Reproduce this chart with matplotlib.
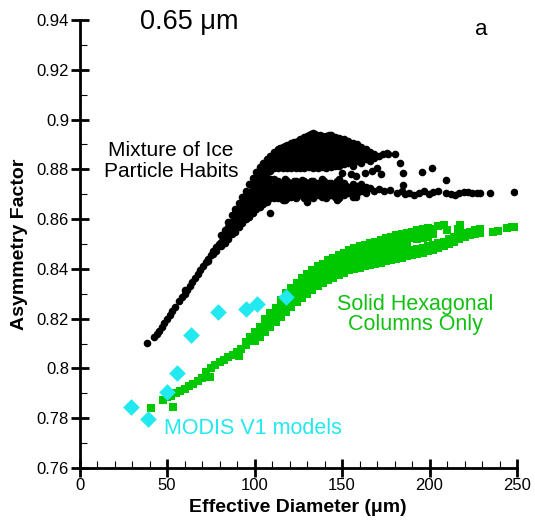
import numpy as np
import matplotlib
matplotlib.use("Agg")
import matplotlib.pyplot as plt
from matplotlib.ticker import MultipleLocator, FixedLocator

plt.rcParams['font.family'] = ['Liberation Sans', 'DejaVu Sans']

# ---- Mixture of ice particle habits (black dots) ----
# narrow leading branch, small effective diameters
mix_line = [(38.5, .8101), (42.5, .8125), (44, .8137), (45.5, .8152), (47, .8167),
            (48.5, .8182), (50, .8198), (51.5, .8213), (53, .8229), (54.5, .8245),
            (57, .8272), (58.5, .8287), (60, .8301), (60.5, .8314), (61.5, .8316),
            (63, .8332), (64.5, .8347), (66, .8362), (67.5, .8378), (69, .8394),
            (70.5, .841), (72, .8426), (73.5, .8441), (73.5, .843), (75, .8456),
            (76.5, .8471), (76.5, .8458), (78, .8487), (78, .8472), (79.5, .8502)]

# widening band where the habits start to diverge: (diameter, [asymmetry values])
mix_band = [(81, [.849, .851, .8535]),
            (83, [.8505, .853, .8555]),
            (85, [.852, .8545, .857, .859]),
            (87, [.854, .8565, .859, .8615]),
            (89, [.855, .8575, .86, .8625, .864]),
            (91, [.857, .8595, .862, .8645, .8665]),
            (93, [.8585, .861, .8635, .866, .869]),
            (95, [.86, .8625, .865, .8675, .870, .8715]),
            (97, [.861, .8635, .866, .8685, .871, .874]),
            (99, [.8625, .865, .8675, .870, .8725, .875, .8765]),
            (101, [.864, .8665, .869, .8715, .874, .8765, .879]),
            (103, [.865, .8675, .870, .8725, .875, .8775, .880, .881]),
            (105, [.866, .8685, .871, .8735, .876, .8785, .881, .8825]),
            (107, [.867, .8695, .872, .8745, .8765, .879, .8815, .884]),
            (109, [.8625, .8685, .871, .8735, .876, .8795, .882, .8845, .8855])]

# upper branch of the cloud
mix_upper = [(111, [.8805, .883, .8855, .887]),
             (112.3, [.8818, .8843, .8868]),
             (113.5, [.8805, .883, .8855, .888]),
             (114.8, [.8818, .8843, .8868, .8885]),
             (116, [.8805, .883, .8855, .889]),
             (117.3, [.8818, .8843, .8868, .8893]),
             (118.5, [.8805, .883, .8855, .888, .8898]),
             (119.8, [.8818, .8843, .8868, .8893]),
             (121, [.8805, .883, .8855, .888, .8905]),
             (122.3, [.8818, .8843, .8868, .8893, .891]),
             (123.5, [.8805, .883, .8855, .888, .891]),
             (124.8, [.8818, .8843, .8868, .8893, .8915]),
             (126, [.8805, .883, .8855, .888, .8905, .892]),
             (127.3, [.8818, .8843, .8868, .8893, .8918]),
             (128.5, [.8805, .883, .8855, .888, .8905, .893]),
             (129.8, [.8818, .8843, .8868, .8893, .8918, .8935]),
             (131, [.881, .883, .8855, .888, .8905, .893, .8938]),
             (132.3, [.8818, .8843, .8868, .8893, .8918, .8942]),
             (133.5, [.8805, .883, .8855, .888, .8905, .893, .8945]),
             (134.8, [.8818, .8843, .8868, .8893, .8918, .8942]),
             (136, [.8805, .883, .8855, .888, .8905, .893]),
             (137.3, [.8818, .8843, .8868, .8893, .8918, .894]),
             (138.5, [.881, .8835, .886, .8885, .891, .8935]),
             (139.8, [.8822, .8847, .8872, .8897, .8922]),
             (141, [.8805, .883, .8855, .888, .8905, .8935]),
             (142.3, [.8822, .8847, .8872, .8897, .8922, .8938]),
             (143.5, [.881, .8835, .886, .8885, .891, .8938]),
             (144.8, [.8827, .8852, .8877, .8902, .8925]),
             (146, [.8815, .884, .8865, .889, .8915, .893]),
             (147.3, [.8827, .8852, .8877, .8902, .8925]),
             (148.5, [.8815, .884, .8865, .889, .8915, .8925]),
             (149.8, [.8832, .8857, .8882, .8907]),
             (151, [.882, .8845, .887, .8895, .892]),
             (152.3, [.8837, .8862, .8887, .891]),
             (153.5, [.8825, .885, .8875, .890, .8915]),
             (154.8, [.8828, .8853, .8878, .8903]),
             (156, [.8815, .884, .8865, .889, .8905]),
             (157.3, [.8847, .8872, .8895]),
             (158.5, [.8835, .886, .8885, .890]),
             (159.8, [.8837, .8862, .8885]),
             (161, [.8825, .885, .8875, .889]),
             (162.3, [.8852, .8877]),
             (163.5, [.884, .8865, .888]),
             (166, [.8835, .886, .887]),
             (168.5, [.8845, .886]),
             (171, [.8855]),
             (173.5, [.8862])]

# lower branch of the cloud
mix_lower = [(111, [.8685, .871, .8735, .876]),
             (112.3, [.8697, .8722, .8747]),
             (113.5, [.8685, .871, .8735, .8755]),
             (114.8, [.8697, .8722, .8747]),
             (116, [.8675, .870, .8725, .875]),
             (117.3, [.8687, .8712, .8737, .876]),
             (118.5, [.8685, .871, .8735, .8755]),
             (119.8, [.8697, .8722, .8747]),
             (121, [.869, .8715, .874]),
             (122.3, [.8702, .8727, .8752]),
             (123.5, [.8685, .871, .8735, .8755]),
             (124.8, [.8697, .8722, .8747]),
             (126, [.8695, .872, .8745]),
             (127.3, [.8707, .8732, .8757]),
             (128.5, [.8685, .871, .8735, .8755]),
             (129.8, [.8697, .8722, .8747]),
             (131, [.869, .8715, .874]),
             (132.3, [.8702, .8727, .8752]),
             (133.5, [.8685, .871, .8735, .8755]),
             (134.8, [.8697, .8722, .8747]),
             (136, [.8695, .872, .8745]),
             (137.3, [.8707, .8732]),
             (138.5, [.869, .8715, .874, .8762]),
             (139.8, [.8702, .8727, .8752]),
             (141, [.8685, .871, .8735]),
             (142.3, [.8697, .8722, .8747]),
             (143.5, [.8695, .872, .8745]),
             (144.8, [.8707, .8732]),
             (146, [.869, .8715, .874]),
             (147.3, [.8702, .8727, .8752]),
             (148.5, [.8685, .871, .8735, .876]),
             (149.8, [.8697, .8722, .8747]),
             (151, [.8695, .872, .8745]),
             (152.3, [.8707, .8732]),
             (153.5, [.8705, .873]),
             (156, [.869, .8715, .874]),
             (158.5, [.8705, .8735]),
             (161, [.8715, .874]),
             (163.5, [.8705, .873]),
             (166, [.8725]),
             (168.5, [.8715])]

# scattered points at large diameters
mix_sparse = [(117.4, .8677), (130, .867), (147, .8675), (158, .869),
              (150, .8785), (155, .878), (158, .8775), (163, .8785), (167, .8795),
              (170, .8805), (172, .878), (175.5, .8864), (176, .8862), (180.3, .886),
              (183, .8824), (184.7, .8784), (195.5, .879), (201.3, .8806), (209.4, .8759),
              (171, .872), (174, .8715), (177.4, .8717), (181.3, .8703), (184, .8712),
              (185, .8737), (186, .870), (188.5, .8705), (191, .8698), (194, .8706),
              (197, .8712), (199.5, .8702), (202, .8708), (205, .8715), (209.5, .8706),
              (212, .8702), (214.6, .8697), (217, .8705), (219.5, .871), (222, .8707),
              (224.5, .8704), (227, .8706), (229, .8703), (234.6, .8704), (248, .8708)]

# ---- Solid hexagonal columns only (green squares) ----
col_line = [(40.7, .784), (53.2, .7845), (47.5, .7875), (50, .7885), (52.5, .789),
            (55, .790), (57.5, .7908), (60, .7918), (62.5, .7928), (65, .7938),
            (67.5, .795), (70, .7962), (72.5, .7985), (74.6, .7967), (75, .800),
            (77.5, .8015), (80, .8025), (82.5, .8035), (85, .8045), (87.5, .8055),
            (90, .8065), (91.3, .8052), (92.5, .808), (95, .8095), (97.5, .811),
            (95, .8108), (97.5, .8125)]

col_band = [(100, [.811, .813, .8145]),
            (103, [.8125, .8145, .8165]),
            (106, [.8145, .8165, .8185, .82]),
            (109, [.8165, .8185, .8205, .8222]),
            (112, [.8185, .8205, .8225, .8242]),
            (115, [.8205, .8225, .8245, .8265, .8275]),
            (118, [.8225, .8245, .8265, .8285, .8305]),
            (121, [.8245, .8265, .8285, .8305, .8325]),
            (124, [.8265, .8285, .8305, .8325, .8345]),
            (127, [.8285, .8305, .8325, .8345, .8362]),
            (130, [.830, .832, .834, .836, .838]),
            (133, [.8315, .8335, .8355, .8375, .8395]),
            (136, [.833, .835, .837, .839, .841]),
            (139, [.8345, .8365, .8385, .8405, .842]),
            (142, [.8355, .8375, .8395, .8415, .8435]),
            (145, [.8365, .8385, .8405, .8425, .8445]),
            (148, [.8375, .8395, .8415, .8435, .8455]),
            (151, [.8385, .8405, .8425, .8445, .8465]),
            (154, [.8395, .8415, .8435, .8455, .8475]),
            (157, [.840, .842, .844, .846, .848, .8485]),
            (160, [.8405, .8425, .8445, .8465, .8485, .849]),
            (163, [.841, .843, .845, .847, .849, .8497]),
            (166, [.8415, .8435, .8455, .8475, .8495, .8505]),
            (169, [.842, .844, .846, .848, .850, .851]),
            (172, [.8425, .8445, .8465, .8485, .8505, .8515]),
            (175, [.843, .845, .847, .849, .851, .8525]),
            (178, [.8435, .8455, .8475, .8495, .8515, .853]),
            (181, [.844, .846, .848, .850, .852, .8535]),
            (184, [.8445, .8465, .8485, .8505, .8525, .854]),
            (187, [.845, .847, .849, .8525, .8545]),
            (190, [.8455, .8475, .8525, .855]),
            (193, [.846, .848, .852, .854, .8555]),
            (196, [.8465, .8485, .8525, .8545, .856]),
            (199, [.847, .849, .853, .855, .8565]),
            (202, [.8475, .8495, .854, .856]),
            (205, [.8485, .8505, .8572]),
            (208, [.849, .851, .8575]),
            (211, [.850, .852]),
            (214, [.851, .853]),
            (217, [.852, .8535]),
            (220, [.853, .8545]),
            (223, [.8535, .855]),
            (226, [.854, .8555]),
            (229, [.8545, .856])]

col_sparse = [(210, .8555), (216.5, .8562), (217.5, .8578), (236, .855),
              (239, .8553), (244, .8565), (247, .857), (250, .857)]

# ---- MODIS V1 models (cyan diamonds) ----
modis_diam = [29.3, 39.0, 49.8, 55.6, 63.6, 79.2, 95.2, 101.2, 118.0]
modis_asym = [.7846, .7797, .7907, .7983, .8134, .8226, .8238, .8257, .8288]

x_ticks = [0, 50, 100, 150, 200, 250]
y_ticks = [0.76, 0.78, 0.80, 0.82, 0.84, 0.86, 0.88, 0.90, 0.92, 0.94]
y_tick_labels = ["0.76", "0.78", "0.8", "0.82", "0.84", "0.86", "0.88", "0.9", "0.92", "0.94"]


def expand(columns):
    xs, ys = [], []
    for d, gs in columns:
        for g in gs:
            xs.append(d)
            ys.append(g)
    return xs, ys


def unpack(pairs):
    return [p[0] for p in pairs], [p[1] for p in pairs]


mx, my = [], []
for part in (unpack(mix_line), expand(mix_band), expand(mix_upper),
             expand(mix_lower), unpack(mix_sparse)):
    mx += part[0]
    my += part[1]

cx, cy = [], []
for part in (unpack(col_line), expand(col_band), unpack(col_sparse)):
    cx += part[0]
    cy += part[1]

BLACK = "#000000"
GREEN = "#00c800"
CYAN = "#22e8f0"

fig = plt.figure(figsize=(5.35, 5.2), dpi=100)
ax = fig.add_axes([0.1486, 0.100, 0.8178, 0.8615])

ax.scatter(mx, my, s=30, marker="o", color=BLACK, linewidths=0, zorder=3)
ax.scatter(cx, cy, s=28, marker="s", color=GREEN, linewidths=0, zorder=4)
ax.scatter(modis_diam, modis_asym, s=72, marker="D", color=CYAN, linewidths=0, zorder=5)

ax.set_xlim(0, 250)
ax.set_ylim(0.76, 0.94)

for side in ("top", "right"):
    ax.spines[side].set_visible(False)
for side in ("left", "bottom"):
    ax.spines[side].set_linewidth(2.0)

ax.xaxis.set_major_locator(FixedLocator(x_ticks))
ax.xaxis.set_minor_locator(MultipleLocator(10))
ax.set_yticks(y_ticks)
ax.set_yticklabels(y_tick_labels)
ax.yaxis.set_minor_locator(MultipleLocator(0.01))

ax.tick_params(which="major", direction="inout", length=13, width=2.0,
               labelsize=12, pad=1)
ax.tick_params(which="minor", direction="in", length=5, width=0.8)

ax.set_xlabel("Effective Diameter (\u03bcm)", fontsize=14, fontweight="bold", labelpad=4)
ax.set_ylabel("Asymmetry Factor", fontsize=14, fontweight="bold", labelpad=6)

ax.text(0.138, 0.979, "0.65 \u03bcm", transform=ax.transAxes, fontsize=19.5,
        ha="left", va="baseline")
ax.text(0.919, 0.9665, "a", transform=ax.transAxes, fontsize=16,
        ha="center", va="baseline")

ax.text(52.3, 0.8852, "Mixture of Ice", fontsize=15, ha="center", va="baseline")
ax.text(52.3, 0.877, "Particle Habits", fontsize=15, ha="center", va="baseline")

ax.text(192, 0.8235, "Solid Hexagonal", fontsize=15.5, ha="center", va="baseline",
        color="#11c011")
ax.text(192, 0.8153, "Columns Only", fontsize=15.5, ha="center", va="baseline",
        color="#11c011")

ax.text(48.5, 0.7735, "MODIS V1 models", fontsize=15.5, ha="left", va="baseline",
        color=CYAN)

fig.savefig("out.png", dpi=100)
